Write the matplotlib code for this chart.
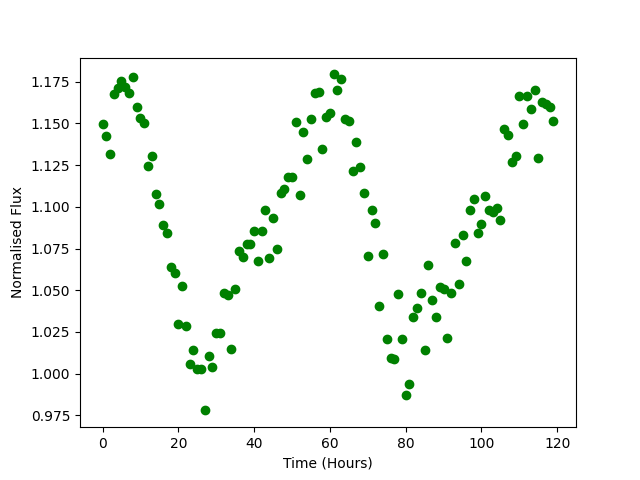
import matplotlib
matplotlib.use('Agg')
import matplotlib.pyplot as plt
import numpy as np


# Time in hours, one reading per hour
time = np.arange(120)

# Normalised flux
flux = [
    1.1498, 1.1426, 1.1318, 1.1674, 1.1714, 1.1754, 1.1718, 1.1682, 1.1778, 1.1596,
    1.1534, 1.1504, 1.1247, 1.1306, 1.1079, 1.1016, 1.0889, 1.0845, 1.0637, 1.0605,
    1.0300, 1.0527, 1.0283, 1.0056, 1.0144, 1.0030, 1.0030, 0.9780, 1.0104, 1.0038,
    1.0246, 1.0246, 1.0483, 1.0471, 1.0150, 1.0509, 1.0735, 1.0699, 1.0779, 1.0779,
    1.0857, 1.0677, 1.0857, 1.0983, 1.0695, 1.0935, 1.0749, 1.1085, 1.1109, 1.1181,
    1.1181, 1.1506, 1.1073, 1.1446, 1.1289, 1.1528, 1.1684, 1.1690, 1.1348, 1.1538,
    1.1564, 1.1794, 1.1702, 1.1768, 1.1528, 1.1516, 1.1217, 1.1386, 1.1241, 1.1085,
    1.0707, 1.0983, 1.0905, 1.0407, 1.0719, 1.0210, 1.0092, 1.0086, 1.0479, 1.0210,
    0.9874, 0.9940, 1.0337, 1.0395, 1.0485, 1.0144, 1.0653, 1.0443, 1.0342, 1.0521,
    1.0509, 1.0216, 1.0485, 1.0785, 1.0539, 1.0833, 1.0677, 1.0983, 1.1049, 1.0845,
    1.0895, 1.1067, 1.0983, 1.0968, 1.0992, 1.0921, 1.1468, 1.1430, 1.1268, 1.1302,
    1.1666, 1.1498, 1.1666, 1.1586, 1.1702, 1.1295, 1.1628, 1.1618, 1.1598, 1.1516,
]

plt.figure(figsize=(6.4, 4.8), dpi=100)
plt.plot(time, flux, 'go')
plt.xlabel('Time (Hours)')
plt.ylabel('Normalised Flux')
plt.savefig('out.png')
